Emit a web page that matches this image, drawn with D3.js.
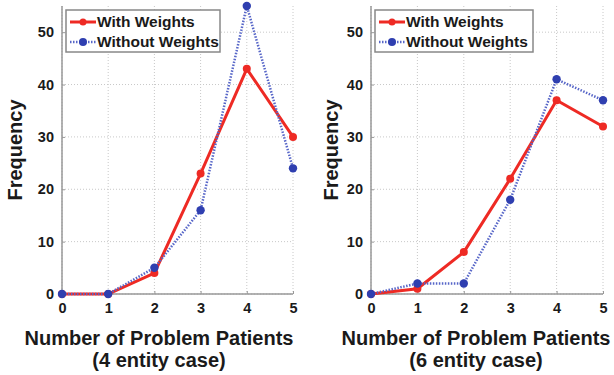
<!DOCTYPE html>
<html lang="en">
<head>
  <meta charset="utf-8" />
  <title>Problem Patients</title>
  <script src="https://d3js.org/d3.v7.min.js"></script>
  <style>
    body { margin: 0; background: #fff; }
    text { font-family: "Liberation Sans", Arial, sans-serif; font-weight: bold; fill: #1a1a1a; }
  </style>
</head>
<body>
  <div id="chart"></div>
  <script>
    // data
    var problemPatients = [0, 1, 2, 3, 4, 5];
    var yTicks = [0, 10, 20, 30, 40, 50];
    var withWeights4 = [0, 0, 4, 23, 43, 30];
    var withoutWeights4 = [0, 0, 5, 16, 55, 24];
    var withWeights6 = [0, 1, 8, 22, 37, 32];
    var withoutWeights6 = [0, 2, 2, 18, 41, 37];
    var seriesNames = ["With Weights", "Without Weights"];
    var caseLabels = ["(4 entity case)", "(6 entity case)"];

    var svg = d3.select("#chart")
                .append("svg")
                .attr("width", 614)
                .attr("height", 375);

    var panels = [
      { x0: 62, x1: 293, withW: withWeights4, withoutW: withoutWeights4, caseLabel: caseLabels[0],
        titleX: 159, yLabelX: 22, legendX: 66, legendW: 154 },
      { x0: 371, x1: 603, withW: withWeights6, withoutW: withoutWeights6, caseLabel: caseLabels[1],
        titleX: 476, yLabelX: 338, legendX: 375, legendW: 158 }
    ];

    var red = "#ee2a24", blue = "#2f3fb0", blueLine = "#5766c8";

    panels.forEach(function(p) {
      var x = d3.scaleLinear().domain([0, 5]).range([p.x0, p.x1]);
      var y = d3.scaleLinear().domain([0, 55]).range([294, 6]);
      var g = svg.append("g");

      // grid
      g.selectAll(".vgrid").data(problemPatients).enter().append("line")
       .attr("x1", function(d) { return x(d); }).attr("x2", function(d) { return x(d); })
       .attr("y1", y(55)).attr("y2", y(0))
       .attr("stroke", "#c8c8c8").attr("stroke-dasharray", "1,2");
      g.selectAll(".hgrid").data(yTicks).enter().append("line")
       .attr("x1", x(0)).attr("x2", x(5))
       .attr("y1", function(d) { return y(d); }).attr("y2", function(d) { return y(d); })
       .attr("stroke", "#c8c8c8").attr("stroke-dasharray", "1,2");

      // axes
      var xAxis = g.append("g").attr("transform", "translate(0," + y(0) + ")")
        .call(d3.axisBottom(x).tickValues(problemPatients).tickFormat(d3.format("d"))
          .tickSize(-3).tickPadding(9));
      var yAxis = g.append("g").attr("transform", "translate(" + x(0) + ",0)")
        .call(d3.axisLeft(y).tickValues(yTicks).tickFormat(d3.format("d"))
          .tickSize(-3).tickPadding(8));
      [xAxis, yAxis].forEach(function(a) {
        a.select(".domain").attr("stroke", "#999").attr("stroke-width", 1.5);
        a.selectAll(".tick line").attr("stroke", "#999");
        a.selectAll(".tick text").style("font-size", "14.5px").attr("fill", "#1a1a1a");
      });
      yAxis.select(".domain").attr("d", "M0," + y(55) + "V" + y(0));
      xAxis.select(".domain").attr("d", "M" + x(0) + ",0H" + x(5));

      var line = d3.line()
        .x(function(d, i) { return x(problemPatients[i]); })
        .y(function(d) { return y(d); });

      // with weights
      g.append("path").datum(p.withW).attr("d", line)
       .attr("fill", "none").attr("stroke", red).attr("stroke-width", 3);
      g.selectAll(".wdot").data(p.withW).enter().append("circle")
       .attr("cx", function(d, i) { return x(problemPatients[i]); })
       .attr("cy", function(d) { return y(d); })
       .attr("r", 4).attr("fill", red);

      // without weights
      g.append("path").datum(p.withoutW).attr("d", line)
       .attr("fill", "none").attr("stroke", blueLine).attr("stroke-width", 2.5)
       .attr("stroke-dasharray", "1.5,1.5");
      g.selectAll(".odot").data(p.withoutW).enter().append("circle")
       .attr("cx", function(d, i) { return x(problemPatients[i]); })
       .attr("cy", function(d) { return y(d); })
       .attr("r", 4.2).attr("fill", blue);

      // axis titles
      g.append("text").attr("x", p.titleX).attr("y", 345)
       .attr("text-anchor", "middle").style("font-size", "20px")
       .text("Number of Problem Patients");
      g.append("text").attr("x", p.titleX).attr("y", 367)
       .attr("text-anchor", "middle").style("font-size", "20px")
       .text(p.caseLabel);
      g.append("text")
       .attr("transform", "translate(" + p.yLabelX + "," + 150 + ") rotate(-90)")
       .attr("text-anchor", "middle").style("font-size", "20px")
       .text("Frequency");

      // legend
      var lg = g.append("g").attr("transform", "translate(" + p.legendX + ",10)");
      lg.append("rect").attr("width", p.legendW).attr("height", 42)
        .attr("fill", "#fff").attr("stroke", "#888").attr("stroke-width", 1.5);
      seriesNames.forEach(function(name, i) {
        var ly = 12 + i * 20;
        var sample = lg.append("line").attr("x1", 4).attr("x2", 30).attr("y1", ly).attr("y2", ly);
        if (i === 0) {
          sample.attr("stroke", red).attr("stroke-width", 3);
        } else {
          sample.attr("stroke", blueLine).attr("stroke-width", 2.5).attr("stroke-dasharray", "1.5,1.5");
        }
        lg.append("circle").attr("cx", 17).attr("cy", ly).attr("r", i === 0 ? 3.5 : 4)
          .attr("fill", i === 0 ? red : blue);
        lg.append("text").attr("x", 31).attr("y", ly + 5)
          .style("font-size", "15.5px").text(name);
      });
    });
  </script>
</body>
</html>
